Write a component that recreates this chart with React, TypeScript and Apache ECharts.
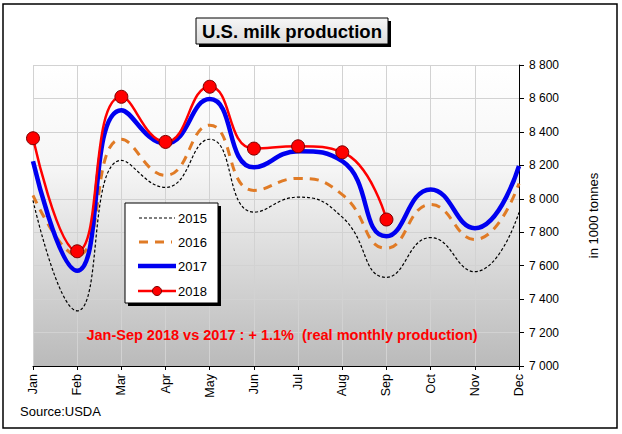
import React, { useEffect, useRef } from "react";
import * as echarts from "echarts";

const months = ["Jan", "Feb", "Mar", "Apr", "May", "Jun", "Jul", "Aug", "Sep", "Oct", "Nov", "Dec"];
const y2015 = [7990, 7330, 8230, 8068, 8356, 7920, 8010, 7890, 7530, 7768, 7564, 7918];
const y2016 = [8020, 7660, 8356, 8140, 8440, 8050, 8122, 8025, 7704, 7966, 7756, 8092];
const y2017 = [8224, 7570, 8530, 8330, 8596, 8188, 8284, 8225, 7776, 8056, 7824, 8196];
const y2018 = [8362, 7686, 8610, 8340, 8670, 8300, 8314, 8278, 7876];
const yTicks = { min: 7000, max: 8800, interval: 200 };
const legendNames = ["2015", "2016", "2017", "2018"];

const fmt = (v: number) => String(v).replace(/\B(?=(\d{3})+(?!\d))/g, " ");

export default function App() {
  const ref = useRef<HTMLDivElement>(null);
  useEffect(() => {
    if (!ref.current) return;
    const chart = echarts.init(ref.current, undefined, { renderer: "svg" });
    const font = "Liberation Sans, Arial, sans-serif";
    const C15 = "#000";
    const C16 = "#e07b26";
    const C17 = "#0000f0";
    const C18 = "#ff0000";

    const lgX = 125;
    const lgY = 203;
    const rowY = [218, 242, 266, 291];
    const legendGraphics: any[] = [
      { type: "rect", shape: { x: lgX + 3, y: lgY + 3, width: 93, height: 100 }, style: { fill: "#000" }, z: 110 },
      { type: "rect", shape: { x: lgX, y: lgY, width: 93, height: 100 }, style: { fill: "#fff", stroke: "#000", lineWidth: 1 }, z: 111 },
      { type: "line", shape: { x1: 139, y1: rowY[0], x2: 175, y2: rowY[0] }, style: { stroke: C15, lineWidth: 1.2, lineDash: [3, 2] }, z: 112 },
      { type: "line", shape: { x1: 139, y1: rowY[1], x2: 172, y2: rowY[1] }, style: { stroke: C16, lineWidth: 3, lineDash: [9, 7] }, z: 112 },
      { type: "line", shape: { x1: 138, y1: rowY[2], x2: 176, y2: rowY[2] }, style: { stroke: C17, lineWidth: 4.5 }, z: 112 },
      { type: "line", shape: { x1: 138, y1: rowY[3], x2: 176, y2: rowY[3] }, style: { stroke: C18, lineWidth: 2.5 }, z: 112 },
      { type: "circle", shape: { cx: 157, cy: rowY[3], r: 4.5 }, style: { fill: C18, stroke: "#7a0000", lineWidth: 1 }, z: 113 },
      ...legendNames.map((n, i) => ({
        type: "text",
        x: 178,
        y: rowY[i],
        style: { text: n, fontSize: 13, fontFamily: font, fill: "#000", align: "left", verticalAlign: "middle" },
        z: 113,
      })),
    ];

    chart.setOption({
      animation: false,
      textStyle: { fontFamily: font },
      grid: {
        left: 33,
        right: 103,
        top: 65,
        bottom: 68,
        show: true,
        borderWidth: 0,
        backgroundColor: new echarts.graphic.LinearGradient(0, 0, 0, 1, [
          { offset: 0, color: "#ffffff" },
          { offset: 0.35, color: "#f5f5f5" },
          { offset: 1, color: "#bababa" },
        ]),
      },
      xAxis: {
        type: "category",
        data: months,
        boundaryGap: false,
        axisLine: { lineStyle: { color: "#000", width: 1 } },
        axisTick: { show: true, length: 4, lineStyle: { color: "#000" } },
        axisLabel: { rotate: 90, color: "#000", fontSize: 12.5, margin: 8, fontFamily: font },
        splitLine: { show: true, lineStyle: { color: "#d2d2d2", width: 1 } },
      },
      yAxis: {
        type: "value",
        position: "right",
        min: yTicks.min,
        max: yTicks.max,
        interval: yTicks.interval,
        name: "in 1000 tonnes",
        nameLocation: "middle",
        nameRotate: 90,
        nameGap: 68,
        nameTextStyle: { color: "#000", fontSize: 13, fontFamily: font },
        axisLine: { show: true, lineStyle: { color: "#000", width: 1 } },
        axisTick: { show: true, length: 5, lineStyle: { color: "#000" } },
        axisLabel: { color: "#000", fontSize: 12, margin: 10, formatter: (v: number) => fmt(v), fontFamily: font },
        splitLine: { show: true, lineStyle: { color: "#d2d2d2", width: 1 } },
      },
      series: [
        {
          name: "2015",
          type: "line",
          data: y2015,
          smooth: 0.5,
          symbol: "none",
          lineStyle: { color: C15, width: 1.2, type: [3, 2] },
          itemStyle: { color: C15 },
          z: 2,
        },
        {
          name: "2016",
          type: "line",
          data: y2016,
          smooth: 0.5,
          symbol: "none",
          lineStyle: { color: C16, width: 3, type: [9, 7] },
          itemStyle: { color: C16 },
          z: 3,
        },
        {
          name: "2017",
          type: "line",
          data: y2017,
          smooth: 0.5,
          symbol: "none",
          lineStyle: { color: C17, width: 4.5 },
          itemStyle: { color: C17 },
          z: 4,
        },
        {
          name: "2018",
          type: "line",
          data: y2018,
          smooth: 0.5,
          symbol: "circle",
          symbolSize: 13,
          lineStyle: { color: C18, width: 2.5 },
          itemStyle: { color: C18, borderColor: "#7a0000", borderWidth: 1 },
          z: 5,
        },
      ],
      graphic: [
        {
          type: "rect",
          shape: { x: 3, y: 4, width: 614, height: 424 },
          style: { fill: "none", stroke: "#000", lineWidth: 1.5 },
          z: 100,
          silent: true,
        },
        {
          type: "rect",
          shape: { x: 199, y: 21, width: 192, height: 26 },
          style: { fill: "#000" },
          z: 100,
        },
        {
          type: "rect",
          shape: { x: 196, y: 18, width: 192, height: 26 },
          style: {
            fill: new echarts.graphic.LinearGradient(0, 0, 0, 1, [
              { offset: 0, color: "#f6f6f6" },
              { offset: 1, color: "#dcdcdc" },
            ]),
            stroke: "#000",
            lineWidth: 1,
          },
          z: 101,
        },
        {
          type: "text",
          x: 292,
          y: 31,
          style: {
            text: "U.S. milk production",
            fontSize: 18.5,
            fontWeight: "bold",
            fontFamily: font,
            fill: "#000",
            align: "center",
            verticalAlign: "middle",
          },
          z: 102,
        },
        {
          type: "text",
          x: 282,
          y: 335,
          style: {
            text: "Jan-Sep 2018 vs 2017 : + 1.1%  (real monthly production)",
            fontSize: 14.5,
            fontWeight: "bold",
            fontFamily: font,
            fill: "#ff0000",
            align: "center",
            verticalAlign: "middle",
          },
          z: 102,
        },
        {
          type: "text",
          x: 20,
          y: 411,
          style: {
            text: "Source:USDA",
            fontSize: 13,
            fontFamily: font,
            fill: "#000",
            align: "left",
            verticalAlign: "middle",
          },
          z: 102,
        },
        ...legendGraphics,
      ],
    });
    return () => chart.dispose();
  }, []);
  return <div ref={ref} style={{ width: 622, height: 434, position: "absolute", left: 0, top: 0 }} />;
}
